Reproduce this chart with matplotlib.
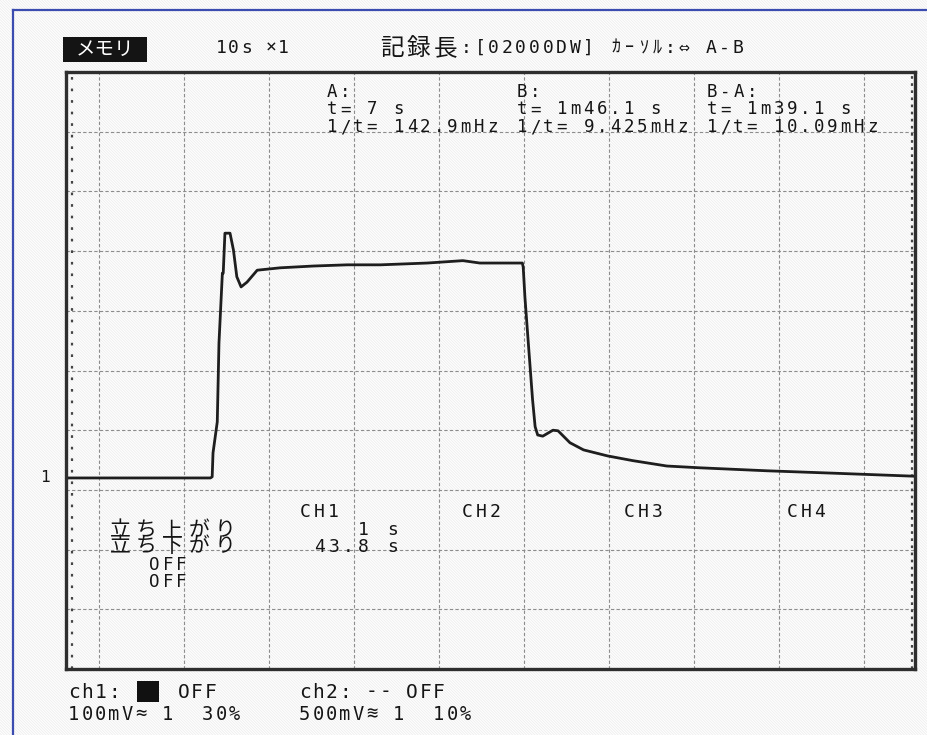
import unicodedata

import numpy as np
import matplotlib

matplotlib.use("Agg")
import matplotlib.pyplot as plt
from matplotlib.lines import Line2D
from matplotlib.patches import Rectangle

# CH1 trace: time in seconds (10 s/div), level in mV (100 mV/div)
time_s = [-3.9, 5.0, 13.1, 13.3, 13.4, 13.9, 14.1, 14.5, 14.6, 14.8, 15.4,
          15.8, 16.2, 16.7, 17.4, 18.6, 21.3, 25.2, 29.2, 33.1, 38.6, 42.8,
          44.8, 49.8, 49.9, 50.1, 50.5, 51.0, 51.3, 51.6, 52.2, 53.4, 54.0,
          55.4, 57.0, 59.8, 62.8, 66.8, 70.7, 78.6, 86.4, 95.8]
ch1_mv = [20, 20, 20, 22, 62, 114, 246, 363, 363, 430, 430,
          402, 357, 340, 348, 368, 372, 375, 377, 377, 380, 384,
          380, 380, 373, 323, 246, 151, 106, 92, 90, 100, 99,
          79, 67, 57, 49, 40, 37, 32, 28, 23]

header_mode = "メモリ"
header_time = "10s ×1"
header_info = "記録長:[02000DW] ｶｰｿﾙ:⇔ A-B"

cursor_a = ["A:", "t= 7 s", "1/t= 142.9mHz"]
cursor_b = ["B:", "t= 1m46.1 s", "1/t= 9.425mHz"]
cursor_ba = ["B-A:", "t= 1m39.1 s", "1/t= 10.09mHz"]

channels = ["CH1", "CH2", "CH3", "CH4"]
meas_names = ["立ち上がり", "立ち下がり"]
meas_ch1 = ["   1 s", "43.8 s"]
meas_off = ["OFF", "OFF"]

ch1_status = ["ch1: ", "OFF"]
ch1_range = "100mV≈ 1  30%"
ch2_status = "ch2: -- OFF"
ch2_range = "500mV≋ 1  10%"

W, H = 928, 735
INK = "#151515"
FONTS = ["DejaVu Sans Mono", "DejaVu Sans", "Noto Sans CJK JP"]

plt.rcParams["hatch.linewidth"] = 0.6

fig = plt.figure(figsize=(W / 100, H / 100), dpi=100)
fig.patch.set_facecolor("white")

# faint dither texture over the whole screen
fig.patches.append(Rectangle((0, 0), 1, 1, transform=fig.transFigure,
                             facecolor="white", edgecolor="#ededed",
                             hatch="\\" * 12, linewidth=0, zorder=-10))


def fx(x):
    return x / W


def fy(y):
    return 1 - y / H


def screen_text(x, y, s, pitch=13.4, size=12, wide_size=None, color=INK,
                family=FONTS):
    # lay out characters on a fixed cell grid like the recorder's display
    cx = x
    for ch in s:
        w = 2 if unicodedata.east_asian_width(ch) in "WF" else 1
        if ch != " ":
            fs = wide_size if (w == 2 and wide_size) else size
            fig.text(fx(cx + w * pitch / 2), fy(y), ch, ha="center",
                     va="center", fontsize=fs, color=color, family=family)
        cx += w * pitch


# outer blue border
fig.add_artist(Line2D([fx(13), fx(13)], [0, fy(10)], color="#3b4cb0", lw=1.6))
fig.add_artist(Line2D([fx(13), 1], [fy(10), fy(10)], color="#3b4cb0", lw=1.6))

ax = fig.add_axes([fx(66), fy(669), fx(915) - fx(66), fy(72) - fy(669)])
ax.set_facecolor("none")
ax.set_xlim(-3.9, 96.0)
ax.set_ylim(-300, 700)
ax.set_xticks(np.arange(0, 91, 10))
ax.set_yticks(np.arange(-200, 601, 100))
ax.tick_params(length=0, labelbottom=False, labelleft=False)
ax.grid(True, color="#8c8c8c", lw=0.8, linestyle=(0, (3, 2)))
for sp in ax.spines.values():
    sp.set_color("#2e2e2e")
    sp.set_linewidth(2.4)

# dotted edge markers inside the frame
ax.axvline(-3.2, color="#444444", lw=1.6, linestyle=(0, (1.2, 4)))
ax.axvline(95.6, color="#444444", lw=1.6, linestyle=(0, (1.2, 2)))

ax.plot(time_s, ch1_mv, color="#1e1e1e", lw=2.0, solid_joinstyle="round")

# zero marker for ch1
screen_text(38, 478, "1", size=11.5)

# header line
fig.patches.append(Rectangle((fx(63), fy(62)), fx(84), 25 / H,
                             transform=fig.transFigure, facecolor="#141414",
                             edgecolor="none"))
fig.text(fx(105), fy(49), header_mode, ha="center", va="center",
         fontsize=14, color="white", family=["Noto Sans CJK JP"])
screen_text(215, 48, header_time, pitch=12.5, size=13)
screen_text(378, 48, header_info, pitch=13.6, size=13, wide_size=17)

# cursor readouts
for x0, block in [(325, cursor_a), (515, cursor_b), (705, cursor_ba)]:
    for i, line in enumerate(block):
        screen_text(x0, 92 + 17.5 * i, line, pitch=13.4, size=12.5)

# measurement table
for x0, name in zip([298, 460, 622, 785], channels):
    screen_text(x0, 512, name, pitch=14, size=13)
for i, name in enumerate(meas_names):
    screen_text(107, 530 + 16 * i, name, pitch=13.1, size=15,
                family=["Noto Sans CJK JP"])
for i, val in enumerate(meas_ch1):
    screen_text(312, 530 + 17 * i, val, pitch=14.6, size=13)
for i, val in enumerate(meas_off):
    screen_text(148, 565 + 17 * i, val, pitch=13.4, size=12.5)

# channel settings at the bottom
screen_text(67, 692, ch1_status[0], pitch=13.4, size=14)
fig.patches.append(Rectangle((fx(137), fy(702)), fx(22), 21 / H,
                             transform=fig.transFigure, facecolor="#111111",
                             edgecolor="none"))
screen_text(177, 692, ch1_status[1], pitch=13.4, size=14)
screen_text(67, 714, ch1_range, pitch=13.4, size=13.5)
screen_text(298, 692, ch2_status, pitch=13.4, size=14)
screen_text(298, 714, ch2_range, pitch=13.4, size=13.5)

fig.savefig("out.png", dpi=100)
